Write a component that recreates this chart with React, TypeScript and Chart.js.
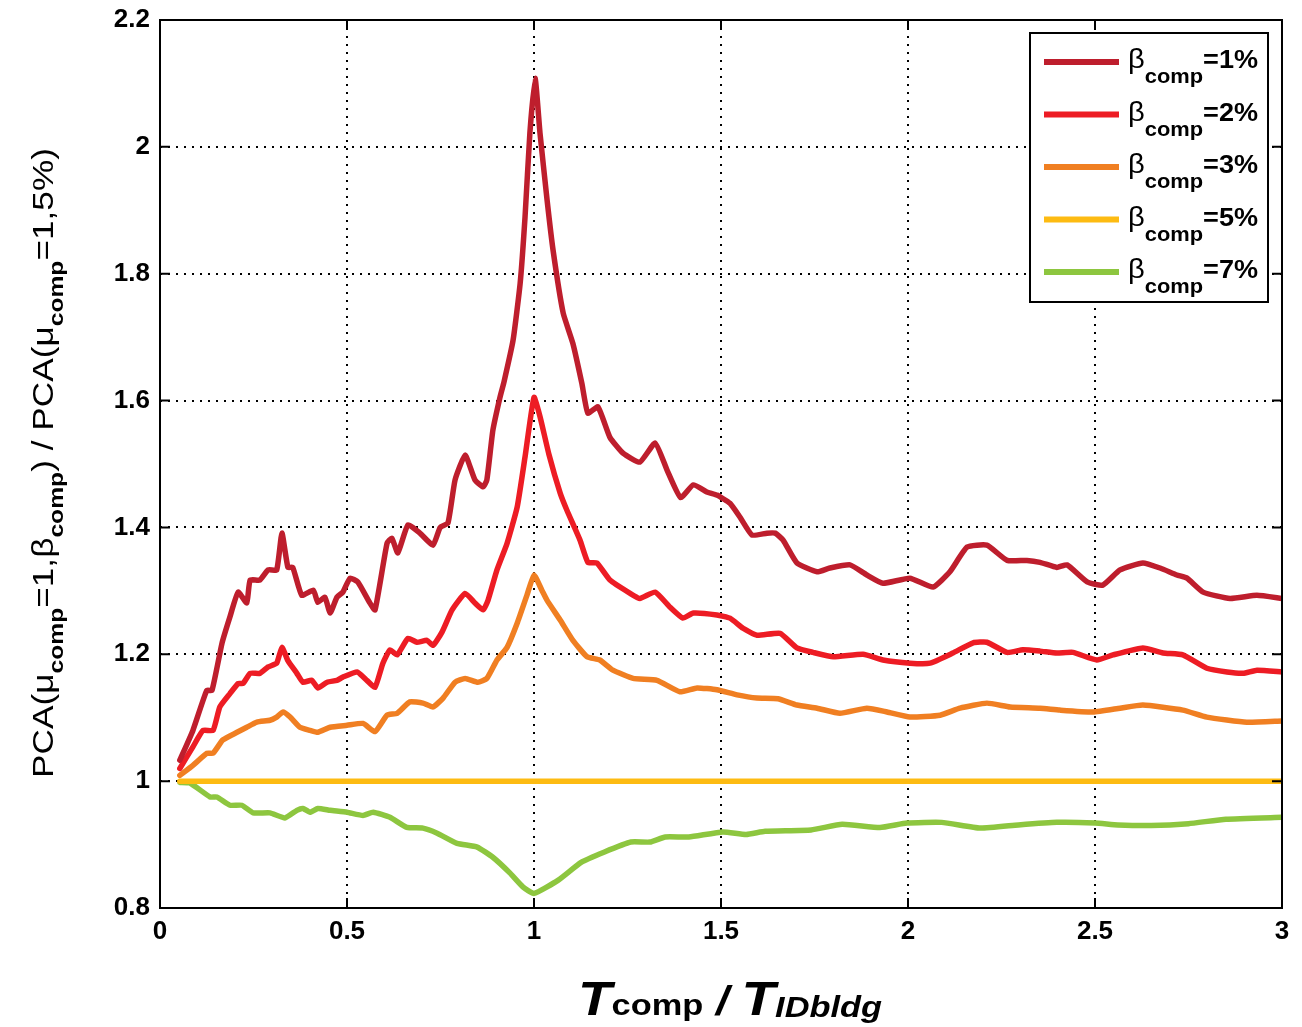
import React, { useEffect, useRef } from "react";
import { Chart, registerables } from "chart.js";

Chart.register(...registerables);

const FONT = '"Liberation Sans", Arial, Helvetica, sans-serif';

const xTicks = [0, 0.5, 1, 1.5, 2, 2.5, 3];
const yTicks = [0.8, 1, 1.2, 1.4, 1.6, 1.8, 2, 2.2];

const legendValues = ["=1%", "=2%", "=3%", "=5%", "=7%"];
const seriesColors = ["#BE1E2D", "#ED1C24", "#F07F22", "#FDBB12", "#8DC63F"];

const b1X = [0.053, 0.088, 0.125, 0.139, 0.166, 0.187, 0.209, 0.232, 0.241, 0.267, 0.289, 0.312, 0.326, 0.342, 0.355, 0.379, 0.41, 0.422, 0.441, 0.455, 0.473, 0.489, 0.508, 0.529, 0.561, 0.575, 0.607, 0.62, 0.636, 0.663, 0.695, 0.73, 0.749, 0.77, 0.789, 0.816, 0.842, 0.864, 0.874, 0.89, 0.909, 0.92, 0.944, 0.963, 0.976, 0.989, 1.003, 1.016, 1.035, 1.051, 1.078, 1.104, 1.128, 1.144, 1.171, 1.203, 1.238, 1.283, 1.324, 1.356, 1.392, 1.426, 1.462, 1.489, 1.524, 1.551, 1.583, 1.623, 1.645, 1.666, 1.703, 1.757, 1.791, 1.845, 1.89, 1.933, 2.005, 2.067, 2.112, 2.158, 2.211, 2.265, 2.318, 2.353, 2.398, 2.425, 2.479, 2.521, 2.567, 2.628, 2.674, 2.719, 2.746, 2.789, 2.861, 2.933, 3.0];
const b1Y = [1.033, 1.08, 1.143, 1.143, 1.218, 1.259, 1.298, 1.281, 1.317, 1.317, 1.333, 1.333, 1.391, 1.337, 1.337, 1.293, 1.301, 1.282, 1.29, 1.265, 1.29, 1.298, 1.32, 1.314, 1.281, 1.27, 1.375, 1.383, 1.36, 1.404, 1.391, 1.372, 1.4, 1.407, 1.475, 1.514, 1.475, 1.464, 1.475, 1.553, 1.605, 1.63, 1.695, 1.785, 1.889, 2.022, 2.108, 2.022, 1.916, 1.837, 1.738, 1.69, 1.627, 1.58, 1.59, 1.542, 1.517, 1.503, 1.533, 1.49, 1.447, 1.467, 1.456, 1.451, 1.438, 1.416, 1.388, 1.391, 1.391, 1.38, 1.344, 1.33, 1.336, 1.341, 1.325, 1.312, 1.32, 1.306, 1.33, 1.369, 1.372, 1.348, 1.348, 1.345, 1.337, 1.341, 1.314, 1.309, 1.333, 1.344, 1.336, 1.325, 1.32, 1.298, 1.288, 1.293, 1.288];

const b2X = [0.053, 0.088, 0.115, 0.142, 0.16, 0.187, 0.209, 0.222, 0.241, 0.267, 0.289, 0.312, 0.326, 0.342, 0.366, 0.382, 0.406, 0.422, 0.447, 0.473, 0.489, 0.527, 0.553, 0.575, 0.596, 0.615, 0.634, 0.663, 0.687, 0.714, 0.73, 0.754, 0.781, 0.816, 0.842, 0.864, 0.877, 0.901, 0.928, 0.955, 0.976, 1.0, 1.016, 1.04, 1.07, 1.088, 1.123, 1.144, 1.168, 1.203, 1.257, 1.283, 1.324, 1.364, 1.398, 1.426, 1.489, 1.524, 1.559, 1.596, 1.658, 1.703, 1.746, 1.8, 1.88, 1.933, 2.005, 2.059, 2.12, 2.174, 2.211, 2.265, 2.307, 2.353, 2.398, 2.441, 2.505, 2.548, 2.628, 2.682, 2.735, 2.799, 2.853, 2.896, 2.933, 3.0];
const b2Y = [1.02, 1.054, 1.08, 1.08, 1.117, 1.138, 1.154, 1.154, 1.17, 1.17, 1.18, 1.186, 1.211, 1.19, 1.17, 1.156, 1.159, 1.147, 1.156, 1.159, 1.164, 1.172, 1.159, 1.148, 1.186, 1.207, 1.199, 1.225, 1.219, 1.222, 1.214, 1.235, 1.27, 1.296, 1.281, 1.27, 1.285, 1.333, 1.375, 1.432, 1.511, 1.605, 1.575, 1.515, 1.454, 1.427, 1.38, 1.345, 1.344, 1.317, 1.296, 1.288, 1.298, 1.274, 1.257, 1.265, 1.262, 1.257, 1.241, 1.23, 1.233, 1.21, 1.203, 1.196, 1.2, 1.191, 1.186, 1.186, 1.202, 1.218, 1.219, 1.203, 1.207, 1.205, 1.202, 1.203, 1.191, 1.199, 1.21, 1.202, 1.199, 1.178, 1.172, 1.17, 1.175, 1.172];

const b3X = [0.053, 0.088, 0.126, 0.142, 0.168, 0.206, 0.232, 0.259, 0.294, 0.312, 0.329, 0.348, 0.374, 0.401, 0.422, 0.455, 0.5, 0.543, 0.575, 0.607, 0.634, 0.668, 0.703, 0.73, 0.757, 0.789, 0.816, 0.85, 0.874, 0.901, 0.928, 0.955, 0.981, 1.0, 1.021, 1.035, 1.07, 1.104, 1.142, 1.176, 1.211, 1.265, 1.329, 1.39, 1.436, 1.489, 1.543, 1.596, 1.652, 1.703, 1.757, 1.818, 1.89, 1.944, 2.005, 2.086, 2.139, 2.211, 2.273, 2.353, 2.406, 2.495, 2.567, 2.628, 2.735, 2.799, 2.906, 3.0];
const b3Y = [1.009, 1.025, 1.044, 1.044, 1.065, 1.077, 1.085, 1.093, 1.096, 1.101, 1.109, 1.101, 1.085, 1.08, 1.077, 1.085, 1.088, 1.091, 1.078, 1.104, 1.107, 1.125, 1.123, 1.117, 1.131, 1.156, 1.162, 1.156, 1.162, 1.191, 1.211, 1.249, 1.293, 1.325, 1.301, 1.285, 1.254, 1.222, 1.196, 1.191, 1.175, 1.162, 1.159, 1.141, 1.147, 1.144, 1.136, 1.131, 1.13, 1.12, 1.115, 1.107, 1.115, 1.109, 1.101, 1.104, 1.115, 1.123, 1.117, 1.115, 1.112, 1.109, 1.115, 1.12, 1.112, 1.101, 1.093, 1.095];

const b5X = [0.053, 3.0];
const b5Y = [1.0, 1.0];

const b7X = [0.053, 0.08, 0.134, 0.152, 0.187, 0.219, 0.249, 0.294, 0.334, 0.366, 0.382, 0.401, 0.422, 0.455, 0.5, 0.543, 0.57, 0.615, 0.66, 0.703, 0.741, 0.794, 0.848, 0.89, 0.936, 0.971, 1.0, 1.065, 1.126, 1.187, 1.259, 1.31, 1.351, 1.414, 1.505, 1.567, 1.618, 1.741, 1.824, 1.925, 1.997, 2.09, 2.193, 2.295, 2.398, 2.5, 2.561, 2.65, 2.75, 2.85, 3.0];
const b7Y = [0.998, 0.997, 0.975, 0.975, 0.962, 0.962, 0.95, 0.95, 0.942, 0.954, 0.957, 0.951, 0.957, 0.954, 0.951, 0.946, 0.951, 0.943, 0.927, 0.926, 0.918, 0.902, 0.896, 0.88, 0.855, 0.833, 0.823, 0.844, 0.872, 0.888, 0.904, 0.904, 0.912, 0.912, 0.92, 0.916, 0.921, 0.923, 0.932, 0.927, 0.934, 0.935, 0.926, 0.931, 0.935, 0.934, 0.931, 0.93, 0.933, 0.94, 0.943];

const seriesX = [b1X, b2X, b3X, b5X, b7X];
const seriesY = [b1Y, b2Y, b3Y, b5Y, b7Y];

type Part = { text: string; font: string; dy: number };

function drawRich(ctx: CanvasRenderingContext2D, parts: Part[], x: number, y: number, target: number, align: "left" | "center") {
  let total = 0;
  const widths = parts.map((p) => {
    ctx.font = p.font;
    const w = ctx.measureText(p.text).width;
    total += w;
    return w;
  });
  const s = target / total;
  ctx.save();
  ctx.translate(x, y);
  ctx.scale(s, 1);
  let cx = align === "center" ? -total / 2 : 0;
  ctx.textAlign = "left";
  ctx.textBaseline = "alphabetic";
  ctx.fillStyle = "#000";
  parts.forEach((p, i) => {
    ctx.font = p.font;
    ctx.fillText(p.text, cx, p.dy);
    cx += widths[i];
  });
  ctx.restore();
}

const decorPlugin = {
  id: "decor",
  afterDraw(chart: any) {
    const { ctx, chartArea: a, scales } = chart;
    const xs = scales.x;
    const ys = scales.y;
    ctx.save();
    ctx.setLineDash([]);
    ctx.strokeStyle = "#000";
    ctx.lineWidth = 2;
    ctx.strokeRect(a.left, a.top, a.right - a.left, a.bottom - a.top);
    ctx.beginPath();
    for (const v of xTicks) {
      const px = xs.getPixelForValue(v);
      ctx.moveTo(px, a.bottom);
      ctx.lineTo(px, a.bottom - 10);
      ctx.moveTo(px, a.top);
      ctx.lineTo(px, a.top + 10);
    }
    for (const v of yTicks) {
      const py = ys.getPixelForValue(v);
      ctx.moveTo(a.left, py);
      ctx.lineTo(a.left + 10, py);
      ctx.moveTo(a.right, py);
      ctx.lineTo(a.right - 10, py);
    }
    ctx.stroke();

    // legend
    const lx = 1030, ly = 33, lw = 238, lh = 269;
    ctx.fillStyle = "#fff";
    ctx.fillRect(lx, ly, lw, lh);
    ctx.lineWidth = 2;
    ctx.strokeStyle = "#000";
    ctx.strokeRect(lx, ly, lw, lh);
    legendValues.forEach((txt, i) => {
      const y0 = 62 + i * 52.5;
      ctx.beginPath();
      ctx.strokeStyle = seriesColors[i];
      ctx.lineWidth = 6;
      ctx.moveTo(1044, y0);
      ctx.lineTo(1119, y0);
      ctx.stroke();
      drawRich(
        ctx,
        [
          { text: "β", font: `28px ${FONT}`, dy: 0 },
          { text: "comp", font: `bold 21px ${FONT}`, dy: 15 },
          { text: txt, font: `bold 26px ${FONT}`, dy: 0 },
        ],
        1128,
        y0 + 6,
        130,
        "left"
      );
    });

    // x title
    drawRich(
      ctx,
      [
        { text: "T", font: `italic bold 48px ${FONT}`, dy: 0 },
        { text: "comp", font: `bold 30px ${FONT}`, dy: 0 },
        { text: " / ", font: `italic bold 40px ${FONT}`, dy: 0 },
        { text: "T", font: `italic bold 48px ${FONT}`, dy: 0 },
        { text: "IDbldg", font: `italic bold 30px ${FONT}`, dy: 2 },
      ],
      730,
      1015,
      304,
      "center"
    );

    // y title
    ctx.save();
    ctx.translate(53, 463);
    ctx.rotate(-Math.PI / 2);
    const main = `30px ${FONT}`;
    const sub = `bold 21px ${FONT}`;
    drawRich(
      ctx,
      [
        { text: "PCA(μ", font: main, dy: 0 },
        { text: "comp", font: sub, dy: 10 },
        { text: "=1,β", font: main, dy: 0 },
        { text: "comp", font: sub, dy: 10 },
        { text: ") / PCA(μ", font: main, dy: 0 },
        { text: "comp", font: sub, dy: 10 },
        { text: "=1,5%)", font: main, dy: 0 },
      ],
      0,
      0,
      630,
      "center"
    );
    ctx.restore();
    ctx.restore();
  },
};

function fmt(v: number) {
  return String(Math.round(v * 10) / 10);
}

export default function App() {
  const ref = useRef<HTMLCanvasElement | null>(null);
  useEffect(() => {
    const canvas = ref.current;
    if (!canvas) return;
    const datasets = seriesX.map((xs, i) => ({
      label: "β" + legendValues[i],
      data: xs.map((x, j) => ({ x, y: seriesY[i][j] })),
      borderColor: seriesColors[i],
      backgroundColor: seriesColors[i],
      borderWidth: 5.5,
      pointRadius: 0,
      tension: 0.15,
      borderJoinStyle: "round" as const,
      borderCapStyle: "round" as const,
      fill: false,
    }));
    const chart = new Chart(canvas, {
      type: "line",
      data: { datasets },
      options: {
        animation: false,
        responsive: false,
        devicePixelRatio: 1,
        layout: { padding: { left: 0, right: 20, top: 20, bottom: 0 } },
        plugins: { legend: { display: false }, tooltip: { enabled: false } },
        scales: {
          x: {
            type: "linear",
            min: 0,
            max: 3,
            afterBuildTicks: (s: any) => {
              s.ticks = xTicks.map((v) => ({ value: v }));
            },
            afterFit: (s: any) => {
              s.height = 119;
              s.paddingLeft = 0;
              s.paddingRight = 0;
            },
            ticks: {
              callback: (v: any) => fmt(Number(v)),
              color: "#000",
              font: { family: FONT, size: 26, weight: "bold" },
              padding: 8,
              maxRotation: 0,
              autoSkip: false,
            },
            grid: { color: "#000", lineWidth: 2, drawTicks: false },
            border: { display: false, dash: [2, 6] },
          },
          y: {
            type: "linear",
            min: 0.8,
            max: 2.2,
            afterBuildTicks: (s: any) => {
              s.ticks = yTicks.map((v) => ({ value: v }));
            },
            afterFit: (s: any) => {
              s.width = 160;
              s.paddingTop = 0;
              s.paddingBottom = 0;
            },
            ticks: {
              callback: (v: any) => fmt(Number(v)),
              color: "#000",
              font: { family: FONT, size: 26, weight: "bold" },
              padding: 10,
              autoSkip: false,
            },
            grid: { color: "#000", lineWidth: 2, drawTicks: false },
            border: { display: false, dash: [2, 6] },
          },
        },
      },
      plugins: [decorPlugin],
    });
    return () => chart.destroy();
  }, []);
  return (
    <div style={{ position: "absolute", left: 0, top: 0, width: 1302, height: 1027, background: "#fff" }}>
      <canvas ref={ref} width={1302} height={1027} style={{ width: 1302, height: 1027, display: "block" }} />
    </div>
  );
}
